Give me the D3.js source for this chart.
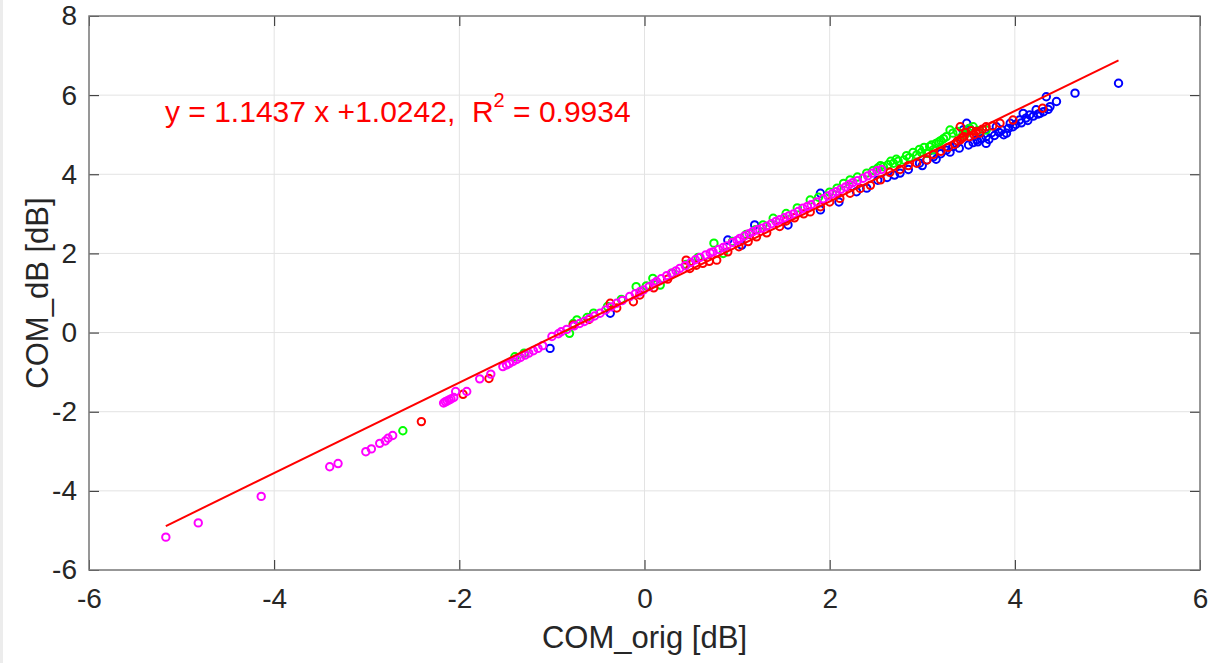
<!DOCTYPE html>
<html>
<head>
<meta charset="utf-8">
<script src="https://cdn.jsdelivr.net/npm/d3@7"></script>
<style>
  body { margin: 0; background: #fff; }
  svg { display: block; font-family: "Liberation Sans", Arial, Helvetica, sans-serif; }
</style>
</head>
<body>
<div id="chart"></div>
<script>
// axis ticks
var xTicks = [-6, -4, -2, 0, 2, 4, 6];
var yTicks = [-6, -4, -2, 0, 2, 4, 6, 8];

// linear fit shown on the plot
var fitSlope = 1.1437, fitIntercept = 1.0242, fitR2 = 0.9934;
var fitRange = [-5.17, 5.12];

// scatter series, [COM_orig, COM_dB]
var bluePts = [[-1.02,-0.40],[-0.37,0.49],[0.90,2.34],[1.05,2.21],[1.19,2.72],[1.55,2.72],[1.90,3.52],[1.90,3.10],
  [2.10,3.30],[2.29,3.56],[2.40,3.65],[2.52,3.85],[2.62,3.92],[2.70,3.98],[2.76,4.03],[2.85,4.12],[2.97,4.28],
  [3.00,4.22],[3.05,4.36],[3.12,4.44],[3.15,4.38],[3.20,4.52],[3.26,4.61],[3.30,4.56],[3.33,4.70],[3.37,4.78],
  [3.40,4.66],[3.44,5.12],[3.48,5.29],[3.50,4.74],[3.51,5.16],[3.55,4.80],[3.59,4.87],[3.60,4.82],[3.64,4.90],
  [3.69,4.95],[3.69,4.78],[3.72,4.88],[3.75,5.05],[3.78,4.98],[3.80,5.20],[3.83,5.06],[3.86,5.12],[3.88,5.00],
  [3.91,5.04],[3.93,5.16],[3.95,5.29],[3.98,5.20],[4.01,5.26],[4.05,5.37],[4.07,5.30],[4.09,5.54],[4.12,5.42],
  [4.14,5.36],[4.16,5.50],[4.20,5.47],[4.23,5.63],[4.25,5.52],[4.27,5.54],[4.31,5.58],[4.34,5.96],[4.36,5.64],
  [4.38,5.71],[4.45,5.84],[4.65,6.05],[5.12,6.30]];

var greenPts = [[-2.61,-2.48],[-1.40,-0.61],[-1.30,-0.52],[-0.81,-0.02],[-0.77,0.23],[-0.73,0.32],[-0.62,0.38],
  [-0.55,0.49],[-0.40,0.66],[-0.25,0.84],[-0.09,1.16],[0.02,1.18],[0.09,1.37],[0.17,1.20],[0.30,1.50],[0.45,1.72],
  [0.58,1.90],[0.75,2.26],[0.85,2.00],[0.95,2.30],[1.10,2.48],[1.20,2.60],[1.28,2.72],[1.39,2.89],[1.53,3.01],
  [1.65,3.15],[1.79,3.35],[1.88,3.42],[2.00,3.55],[2.08,3.65],[2.15,3.77],[2.22,3.86],[2.30,3.93],[2.40,4.03],
  [2.47,4.10],[2.52,4.16],[2.55,4.22],[2.58,4.19],[2.63,4.24],[2.66,4.33],[2.69,4.28],[2.72,4.38],[2.74,4.33],
  [2.80,4.36],[2.83,4.47],[2.86,4.42],[2.90,4.55],[2.94,4.49],[2.97,4.63],[2.99,4.55],[3.02,4.68],[3.05,4.53],
  [3.08,4.70],[3.10,4.74],[3.12,4.62],[3.15,4.78],[3.18,4.82],[3.20,4.85],[3.23,4.90],[3.26,4.95],[3.30,5.12],
  [3.33,5.04],[3.38,5.08],[3.44,5.00],[3.48,5.04],[3.51,5.16],[3.55,5.20],[3.60,5.10],[3.69,5.12]];

var redPts = [[-2.41,-2.25],[-1.96,-1.56],[-1.68,-1.16],[-0.77,0.19],[-0.60,0.33],[-0.37,0.74],[-0.30,0.62],
  [-0.12,0.78],[-0.05,0.95],[0.10,1.13],[0.25,1.35],[0.45,1.83],[0.49,1.62],[0.56,1.70],[0.63,1.75],[0.70,1.80],
  [0.78,1.83],[0.90,2.04],[1.02,2.17],[1.12,2.30],[1.21,2.42],[1.32,2.52],[1.46,2.68],[1.53,2.82],[1.62,2.90],
  [1.72,3.00],[1.79,3.05],[1.90,3.18],[2.00,3.30],[2.11,3.39],[2.22,3.52],[2.33,3.64],[2.44,3.72],[2.55,3.86],
  [2.65,4.05],[2.76,4.12],[2.85,4.22],[2.94,4.28],[3.05,4.36],[3.12,4.50],[3.20,4.58],[3.28,4.68],[3.35,4.76],
  [3.38,4.84],[3.41,4.87],[3.43,4.92],[3.45,4.95],[3.41,5.20],[3.47,5.06],[3.51,4.95],[3.53,5.10],[3.56,5.00],
  [3.58,5.08],[3.62,5.04],[3.65,5.14],[3.69,5.20],[3.76,5.22],[3.84,5.29],[3.98,5.37],[4.30,5.67]];

var magentaPts = [[-5.17,-5.17],[-4.82,-4.81],[-4.14,-4.14],[-3.40,-3.39],[-3.31,-3.31],[-3.01,-3.01],[-2.95,-2.94],
  [-2.86,-2.80],[-2.80,-2.74],[-2.77,-2.67],[-2.72,-2.60],[-2.17,-1.78],[-2.15,-1.75],[-2.13,-1.73],[-2.11,-1.70],
  [-2.09,-1.68],[-2.06,-1.64],[-2.04,-1.49],[-1.92,-1.49],[-1.78,-1.17],[-1.66,-1.05],[-1.53,-0.86],[-1.49,-0.82],
  [-1.46,-0.78],[-1.42,-0.73],[-1.38,-0.68],[-1.34,-0.63],[-1.29,-0.57],[-1.25,-0.52],[-1.20,-0.46],[-1.15,-0.40],
  [-1.10,-0.33],[-1.00,-0.10],[-0.93,-0.03],[-0.90,0.02],[-0.84,0.08],[-0.76,0.17],[-0.70,0.23],[-0.65,0.28],
  [-0.59,0.36],[-0.54,0.42],[-0.48,0.49],[-0.42,0.57],[-0.36,0.65],[-0.30,0.74],[-0.24,0.81],[-0.16,0.91],
  [-0.10,0.98],[-0.05,1.03],[-0.01,1.08],[0.05,1.16],[0.10,1.24],[0.13,1.29],[0.18,1.36],[0.24,1.44],[0.29,1.50],
  [0.34,1.56],[0.38,1.62],[0.44,1.69],[0.50,1.77],[0.55,1.84],[0.60,1.90],[0.66,1.96],[0.71,2.01],[0.74,2.04],
  [0.80,2.10],[0.85,2.15],[0.89,2.19],[0.95,2.28],[1.00,2.33],[1.03,2.38],[1.08,2.44],[1.13,2.50],[1.17,2.55],
  [1.22,2.60],[1.27,2.64],[1.32,2.69],[1.37,2.75],[1.42,2.81],[1.46,2.85],[1.51,2.90],[1.56,2.95],[1.61,3.00],
  [1.66,3.06],[1.71,3.14],[1.76,3.19],[1.80,3.23],[1.86,3.30],[1.93,3.38],[1.98,3.45],[2.03,3.51],[2.07,3.56],
  [2.12,3.62],[2.17,3.68],[2.21,3.74],[2.25,3.79],[2.30,3.84],[2.36,3.90],[2.41,3.96],[2.46,4.03],[2.51,4.09],[2.56,4.12]];

var series = [
  {name: "blue", color: "#0000ff", pts: bluePts},
  {name: "green", color: "#00ff00", pts: greenPts},
  {name: "red", color: "#ff0000", pts: redPts},
  {name: "magenta", color: "#ff00ff", pts: magentaPts}
];

var width = 1214, height = 663;
var margin = {top: 16, right: 14, bottom: 93, left: 89};

var svg = d3.select("#chart").append("svg")
  .attr("width", width)
  .attr("height", height);

// faint window edge on the left
svg.append("rect").attr("x", 0).attr("y", 0).attr("width", 3).attr("height", height).attr("fill", "#ececec");

var x = d3.scaleLinear().domain([-6, 6]).range([margin.left, width - margin.right]);
var y = d3.scaleLinear().domain([-6, 8]).range([height - margin.bottom, margin.top]);

var x0 = x.range()[0], x1 = x.range()[1], y0 = y.range()[0], y1 = y.range()[1];

// grid
svg.append("g").selectAll("line.gx")
  .data(xTicks).enter().append("line")
  .attr("x1", function(d) { return x(d); }).attr("x2", function(d) { return x(d); })
  .attr("y1", y1).attr("y2", y0)
  .attr("stroke", "#e3e3e3").attr("stroke-width", 1);
svg.append("g").selectAll("line.gy")
  .data(yTicks).enter().append("line")
  .attr("y1", function(d) { return y(d); }).attr("y2", function(d) { return y(d); })
  .attr("x1", x0).attr("x2", x1)
  .attr("stroke", "#e3e3e3").attr("stroke-width", 1);

// points
series.forEach(function(s) {
  svg.append("g").attr("class", s.name)
    .selectAll("circle")
    .data(s.pts).enter().append("circle")
    .attr("cx", function(d) { return x(d[0]); })
    .attr("cy", function(d) { return y(d[1]); })
    .attr("r", 3.7)
    .attr("fill", "none")
    .attr("stroke", s.color)
    .attr("stroke-width", 2);
});

// fit line
svg.append("line")
  .attr("x1", x(fitRange[0])).attr("y1", y(fitSlope * fitRange[0] + fitIntercept))
  .attr("x2", x(fitRange[1])).attr("y2", y(fitSlope * fitRange[1] + fitIntercept))
  .attr("stroke", "#ff0000").attr("stroke-width", 2);

// axes with inward ticks on all sides
var tickColor = "#262626";
var plain = function(d) { return String(d); };
var axB = d3.axisBottom(x).tickValues(xTicks).tickSizeInner(-10).tickSizeOuter(0).tickPadding(18).tickFormat(plain);
var axT = d3.axisTop(x).tickValues(xTicks).tickSizeInner(-10).tickSizeOuter(0).tickFormat("");
var axL = d3.axisLeft(y).tickValues(yTicks).tickSizeInner(-10).tickSizeOuter(0).tickPadding(12).tickFormat(plain);
var axR = d3.axisRight(y).tickValues(yTicks).tickSizeInner(-10).tickSizeOuter(0).tickFormat("");

function styleAxis(g) {
  g.select(".domain").remove();
  g.selectAll(".tick line").attr("stroke", tickColor).attr("stroke-width", 1);
  g.selectAll(".tick text").attr("fill", tickColor).style("font-size", "28px")
    .style("font-family", "'Liberation Sans', Arial, sans-serif");
}
svg.append("g").attr("transform", "translate(0," + y0 + ")").call(axB).call(styleAxis);
svg.append("g").attr("transform", "translate(0," + y1 + ")").call(axT).call(styleAxis);
svg.append("g").attr("transform", "translate(" + x0 + ",0)").call(axL).call(styleAxis);
svg.append("g").attr("transform", "translate(" + x1 + ",0)").call(axR).call(styleAxis);

// box
svg.append("rect")
  .attr("x", x0).attr("y", y1).attr("width", x1 - x0).attr("height", y0 - y1)
  .attr("fill", "none").attr("stroke", "#7a7a7a").attr("stroke-width", 1.5);

// axis labels
svg.append("text")
  .attr("x", (x0 + x1) / 2).attr("y", 648)
  .attr("text-anchor", "middle")
  .attr("fill", tickColor).style("font-size", "31px")
  .text("COM_orig [dB]");
svg.append("text")
  .attr("transform", "translate(48," + ((y0 + y1) / 2) + ") rotate(-90)")
  .attr("text-anchor", "middle")
  .attr("fill", tickColor).style("font-size", "31px")
  .text("COM_dB [dB]");

// fit equation
var eq = svg.append("text")
  .attr("x", 165).attr("y", 122)
  .attr("fill", "#ff0000").style("font-size", "30px");
eq.append("tspan").text("y = " + fitSlope + " x +" + fitIntercept + ",\u00a0\u00a0R");
eq.append("tspan").attr("dy", -15).style("font-size", "20px").text("2");
eq.append("tspan").attr("dy", 15).text(" = " + fitR2);
</script>
</body>
</html>
